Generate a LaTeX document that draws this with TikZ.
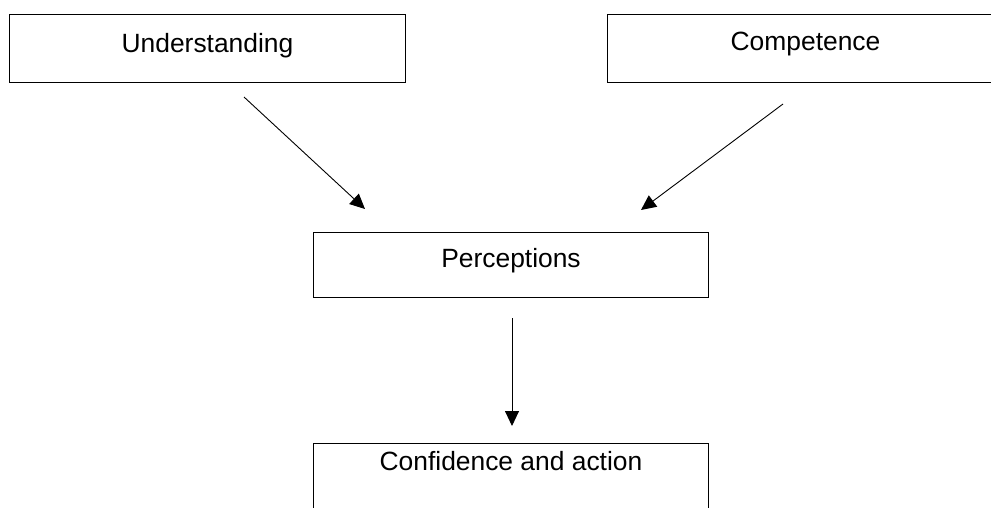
\documentclass[tikz,border=0pt]{standalone}
\usepackage{fontspec}
\setmainfont{Liberation Sans}
\usetikzlibrary{arrows.meta}
\begin{document}
\begin{tikzpicture}[x=1pt,y=-1pt,
  box/.style={draw, line width=1pt, inner sep=0pt, anchor=north west,
    font=\fontsize{26.4}{30}\selectfont},
  conn/.style={line width=0.9pt, -{Triangle[length=15pt,width=14pt]}}]
\useasboundingbox (0,0) rectangle (991,508);
\clip (0,0) rectangle (991,508);
\node[box, minimum width=396pt, text height=38pt, text depth=30pt] (und) at (9,14) {Understanding};
\node[box, minimum width=396pt, text height=36pt, text depth=32pt] (comp) at (607,14) {Competence};
\node[box, minimum width=395pt, text height=35pt, text depth=30pt] (perc) at (313,232) {Perceptions};
\node[box, minimum width=395pt, text height=27pt, text depth=41pt] (conf) at (313,443) {Confidence and action};
\coordinate (a1s) at (244,97);
\coordinate (a1e) at (365,209);
\coordinate (a2s) at (783,104);
\coordinate (a2e) at (641,210);
\coordinate (a3s) at (512,318);
\coordinate (a3e) at (512,426);
\draw[conn] (a1s) -- (a1e);
\draw[conn] (a2s) -- (a2e);
\draw[conn] (a3s) -- (a3e);
\end{tikzpicture}
\end{document}
